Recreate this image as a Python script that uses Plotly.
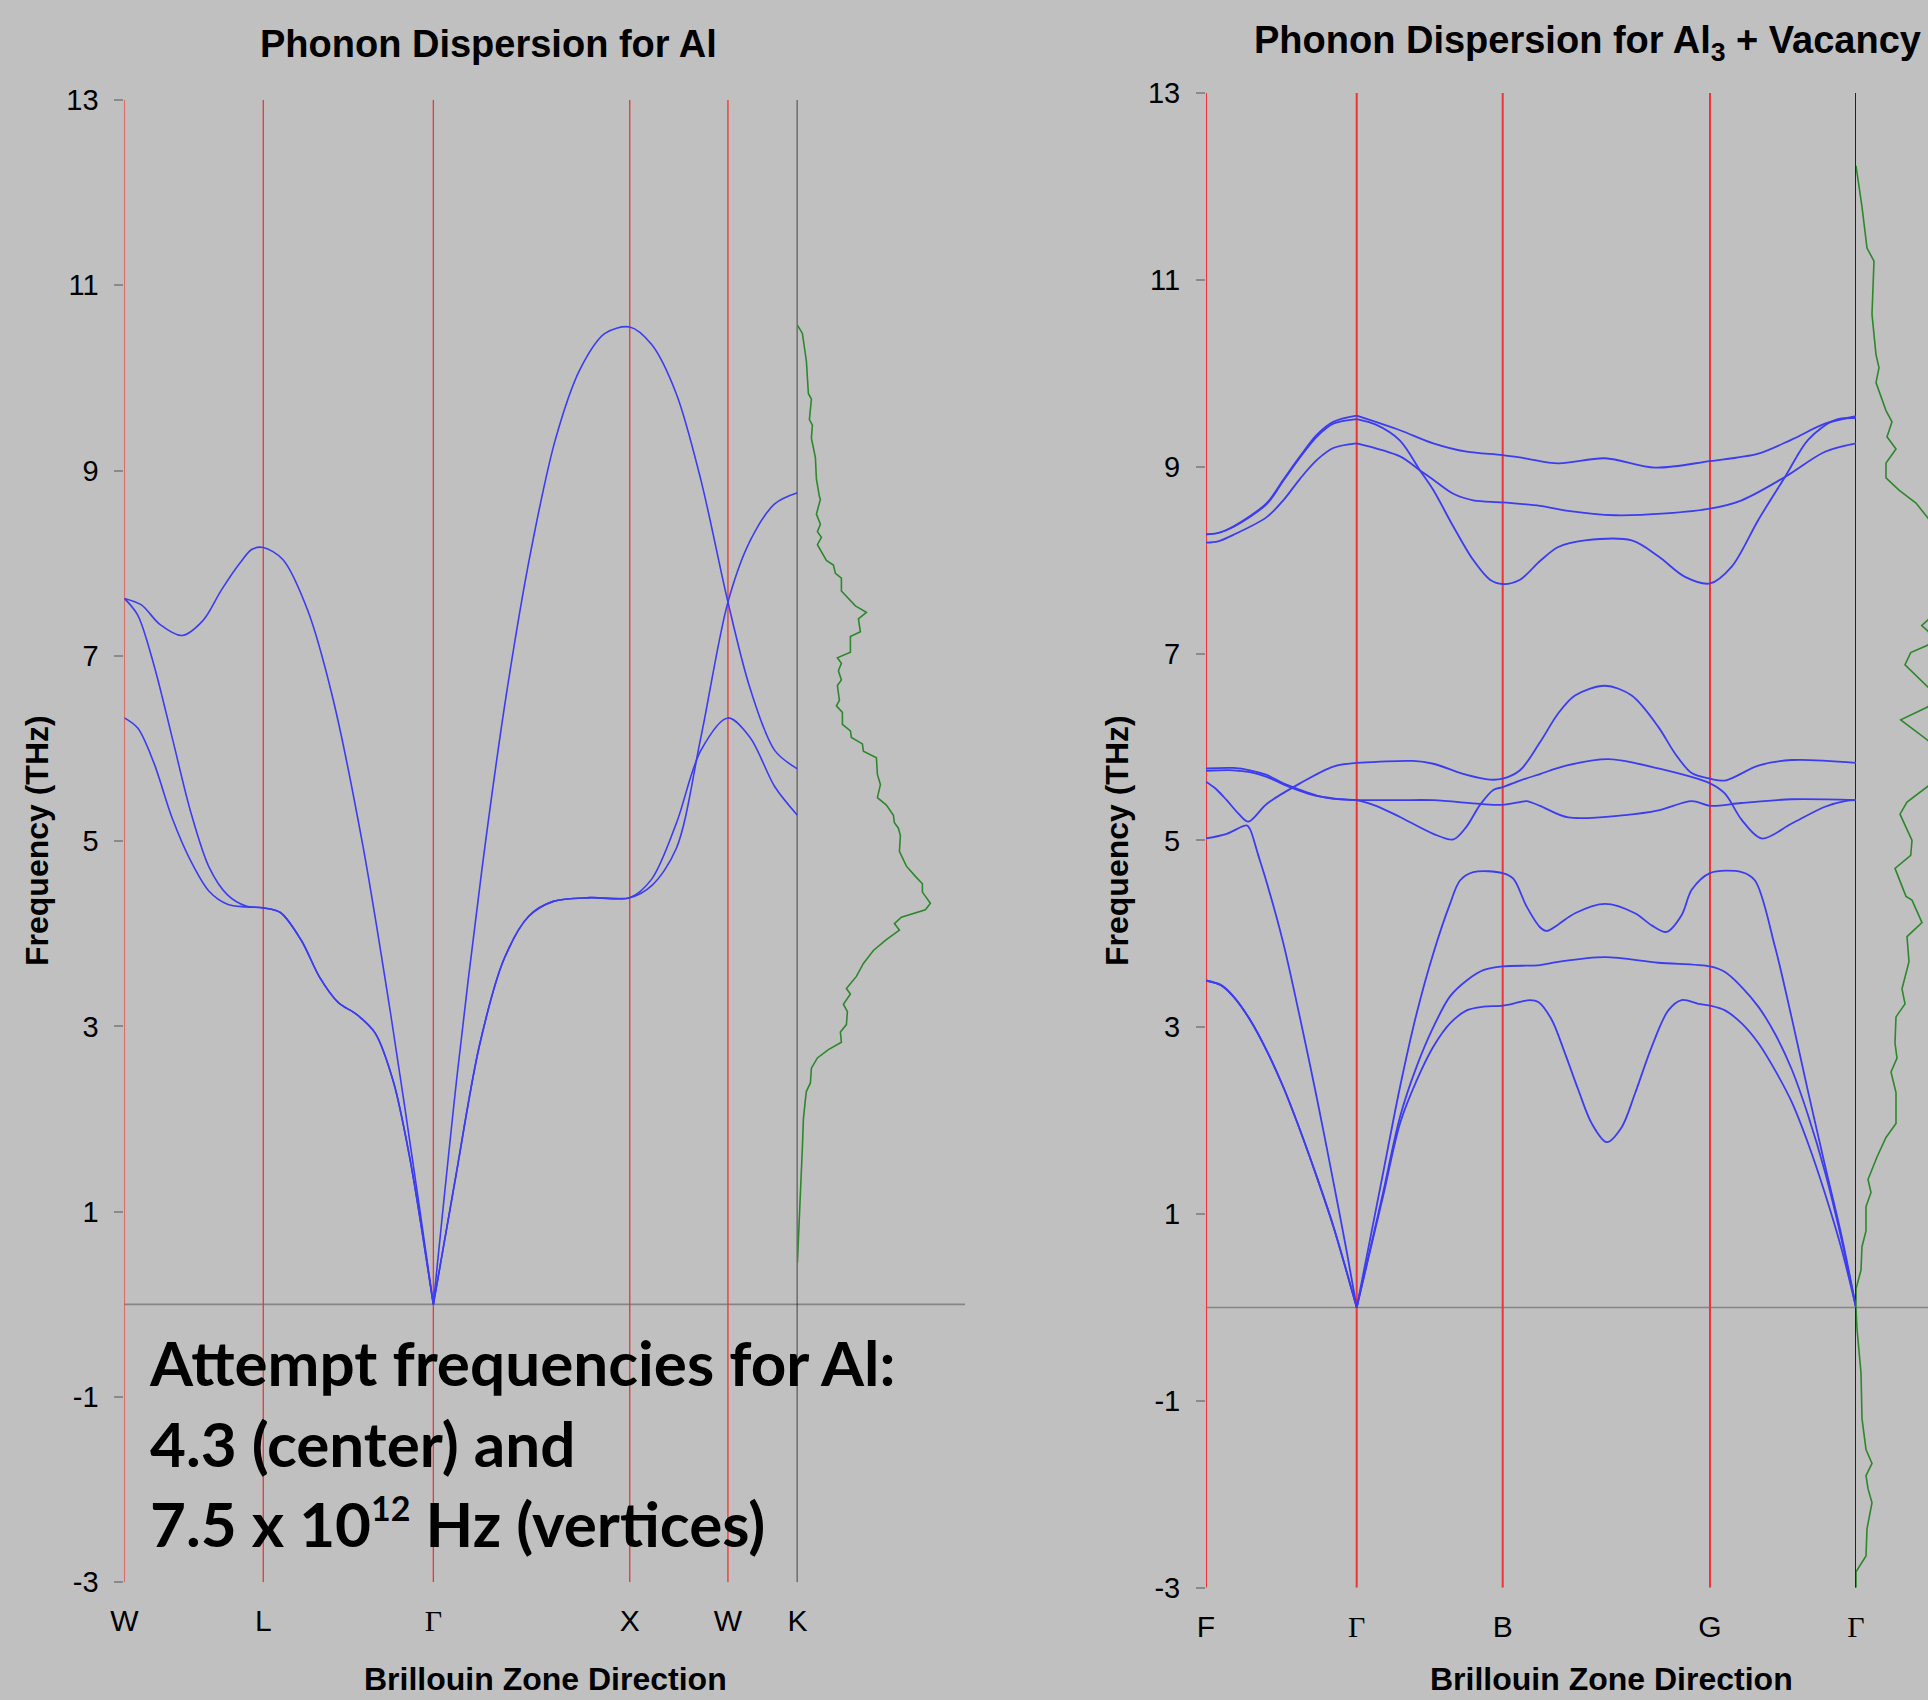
import plotly.graph_objects as go

W, H = 1928, 1700

# ---------------- Left panel: Al ----------------
left_tick_k = [0.0, 0.7071, 1.5731, 2.5731, 3.0731, 3.4267]
left_tick_text = ['W', 'L', 'Γ', 'X', 'W', 'K']
left_gamma = [1.5731]

left_b1_k = [0, 0.0866, 0.1805, 0.2932, 0.3996, 0.4935, 0.5874, 0.65, 0.7071, 0.8066, 0.9318, 1.057, 1.2135,
             1.3575, 1.5015, 1.5731, 1.6956, 1.8208, 1.946, 2.0712, 2.1964, 2.3216, 2.4468, 2.5731, 2.6848,
             2.81, 2.9352, 3.0731, 3.1857, 3.3109, 3.4267]
left_b1_f = [7.62, 7.55, 7.34, 7.22, 7.38, 7.71, 8.00, 8.15, 8.17, 8.04, 7.50, 6.58, 4.96,
             3.11, 1.06, 0.0, 2.5, 4.7, 6.6, 8.15, 9.35, 10.1, 10.48, 10.55, 10.36,
             9.83, 8.90, 7.58, 6.65, 5.98, 5.78]

left_b2_k = [0, 0.0678, 0.1492, 0.2431, 0.337, 0.4309, 0.5248, 0.6187, 0.7071, 0.7941, 0.9005, 0.9944, 1.0883,
             1.1822, 1.2761, 1.37, 1.4514, 1.514, 1.5731, 1.6831, 1.8083, 1.9335, 2.0587, 2.1839, 2.3717,
             2.5731, 2.6848, 2.81, 2.9352, 3.0731, 3.1857, 3.3109, 3.4267]
left_b2_f = [7.62, 7.44, 6.91, 6.12, 5.32, 4.72, 4.42, 4.30, 4.28, 4.23, 3.93, 3.53, 3.26,
             3.13, 2.93, 2.40, 1.60, 0.81, 0.0, 1.33, 2.80, 3.73, 4.19, 4.35, 4.39,
             4.39, 4.52, 4.92, 6.12, 7.58, 8.24, 8.64, 8.76]

left_b3_k = [0, 0.0678, 0.1492, 0.2431, 0.337, 0.4309, 0.5248, 0.6187, 0.7071, 0.7941, 0.9005, 0.9944, 1.0883,
             1.1822, 1.2761, 1.37, 1.4514, 1.514, 1.5731, 1.6831, 1.8083, 1.9335, 2.0587, 2.1839, 2.3717,
             2.5731, 2.6848, 2.81, 2.9352, 3.0731, 3.1857, 3.3109, 3.4267]
left_b3_f = [6.33, 6.22, 5.85, 5.25, 4.79, 4.46, 4.32, 4.29, 4.28, 4.23, 3.93, 3.53, 3.26,
             3.13, 2.93, 2.40, 1.60, 0.81, 0.0, 1.33, 2.80, 3.73, 4.19, 4.35, 4.39,
             4.39, 4.59, 5.19, 5.98, 6.33, 6.12, 5.59, 5.28]

left_dos_f = [10.57, 10.48, 10.18, 9.83, 9.77, 9.55, 9.49, 9.35, 9.14, 8.91, 8.72, 8.69, 8.53, 8.42, 8.34,
              8.28, 8.20, 8.03, 7.98, 7.89, 7.84, 7.70, 7.54, 7.47, 7.40, 7.26, 7.21, 7.04, 6.98, 6.92,
              6.84, 6.74, 6.68, 6.52, 6.46, 6.39, 6.26, 6.19, 6.12, 6.05, 5.97, 5.90, 5.72, 5.61, 5.47,
              5.39, 5.28, 5.20, 5.14, 5.06, 4.89, 4.73, 4.62, 4.54, 4.45, 4.33, 4.26, 4.18, 4.11, 4.04,
              3.93, 3.82, 3.68, 3.54, 3.41, 3.35, 3.24, 3.16, 3.02, 2.94, 2.83, 2.75, 2.66, 2.55, 2.39,
              2.30, 2.21, 2.0, 1.7, 1.4, 1.0, 0.7, 0.45]
left_dos_v = [0.0, 0.05, 0.09, 0.11, 0.14, 0.12, 0.15, 0.14, 0.18, 0.19, 0.22, 0.23, 0.19, 0.23, 0.20,
              0.24, 0.20, 0.29, 0.36, 0.38, 0.44, 0.44, 0.58, 0.69, 0.61, 0.63, 0.53, 0.53, 0.40, 0.44,
              0.41, 0.44, 0.40, 0.42, 0.39, 0.45, 0.45, 0.53, 0.54, 0.65, 0.66, 0.79, 0.80, 0.83, 0.80,
              0.89, 0.96, 0.97, 1.01, 1.03, 1.02, 1.09, 1.18, 1.25, 1.25, 1.33, 1.28, 1.04, 0.97, 1.02,
              0.88, 0.76, 0.66, 0.59, 0.49, 0.53, 0.46, 0.50, 0.49, 0.43, 0.44, 0.31, 0.20, 0.14, 0.13,
              0.09, 0.08, 0.06, 0.05, 0.04, 0.02, 0.01, 0.0]

# ---------------- Right panel: Al3 + vacancy ----------------
right_tick_k = [0.0, 1.507, 2.967, 5.04, 6.50]
right_tick_text = ['F', 'Γ', 'B', 'G', 'Γ']
right_gamma = [1.507, 6.50]

r_b1_k = [0, 0.12, 0.273, 0.607, 0.773, 0.94, 1.107, 1.273, 1.507, 1.94, 2.273, 2.607, 2.967, 3.19, 3.523,
          3.99, 4.49, 5.04, 5.523, 5.857, 6.19, 6.50]
r_b1_f = [8.275, 8.29, 8.36, 8.61, 8.86, 9.11, 9.34, 9.48, 9.546, 9.39, 9.25, 9.16, 9.124, 9.09, 9.035,
          9.09, 8.99, 9.06, 9.14, 9.29, 9.46, 9.54]

r_b2_k = [0, 0.12, 0.273, 0.607, 0.773, 0.94, 1.107, 1.273, 1.507, 1.70, 1.94, 2.14, 2.273, 2.473, 2.673,
          2.84, 2.967, 3.14, 3.34, 3.523, 3.79, 4.257, 4.523, 4.79, 5.04, 5.257, 5.523, 5.79, 6.023, 6.29, 6.50]
r_b2_f = [8.275, 8.29, 8.355, 8.60, 8.85, 9.10, 9.32, 9.46, 9.51, 9.45, 9.28, 8.96, 8.75, 8.36, 8.0,
          7.79, 7.744, 7.79, 7.99, 8.14, 8.21, 8.21, 8.04, 7.82, 7.75, 7.93, 8.43, 8.89, 9.29, 9.50, 9.52]

r_b3_k = [0, 0.12, 0.273, 0.607, 0.773, 0.94, 1.107, 1.273, 1.507, 1.94, 2.14, 2.273, 2.473, 2.673, 2.967,
          3.34, 3.6, 4.09, 4.6, 5.04, 5.357, 5.79, 6.19, 6.50]
r_b3_f = [8.186, 8.20, 8.27, 8.46, 8.64, 8.87, 9.07, 9.20, 9.25, 9.11, 8.96, 8.86, 8.71, 8.64, 8.618,
          8.58, 8.53, 8.48, 8.50, 8.55, 8.64, 8.89, 9.16, 9.25]

r_b4_k = [0, 0.1, 0.207, 0.33, 0.423, 0.607, 0.94, 1.273, 1.507, 2.073, 2.273, 2.607, 2.84, 2.967, 3.14,
          3.34, 3.523, 3.69, 3.99, 4.257, 4.523, 4.69, 4.857, 5.04, 5.19, 5.523, 5.857, 6.50]
r_b4_f = [5.627, 5.55, 5.43, 5.28, 5.20, 5.39, 5.61, 5.79, 5.83, 5.85, 5.82, 5.70, 5.65, 5.66, 5.75,
          6.05, 6.36, 6.55, 6.655, 6.55, 6.215, 5.93, 5.72, 5.66, 5.64, 5.80, 5.86, 5.83]

r_b5_k = [0, 0.207, 0.407, 0.44, 0.52, 0.607, 0.773, 0.94, 1.107, 1.273, 1.407, 1.507, 1.617, 1.773, 1.94,
          2.107, 2.273, 2.44, 2.54, 2.673, 2.967, 3.073, 3.207, 3.34, 3.407, 3.523, 3.69, 3.99, 4.29, 4.457,
          4.607, 4.757, 4.857, 5.04, 5.357, 5.49, 5.69, 5.857, 6.023, 6.19, 6.357, 6.50]
r_b5_f = [5.02, 5.07, 5.16, 5.12, 4.85, 4.55, 3.90, 3.10, 2.25, 1.35, 0.60, 0.0, 0.60, 1.45, 2.36,
          3.15, 3.79, 4.32, 4.57, 4.66, 4.65, 4.59, 4.29, 4.07, 4.03, 4.10, 4.22, 4.32, 4.22, 4.09,
          4.02, 4.20, 4.47, 4.65, 4.66, 4.57, 3.86, 3.10, 2.30, 1.52, 0.76, 0.0]

r_b6_k = [0, 0.15, 0.273, 0.44, 0.607, 0.773, 0.94, 1.107, 1.273, 1.407, 1.507, 1.673, 1.773, 1.94, 2.107,
          2.273, 2.44, 2.607, 2.773, 2.967, 3.34, 3.523, 3.99, 4.523, 5.04, 5.19, 5.357, 5.523, 5.69, 5.857,
          6.023, 6.19, 6.357, 6.50]
r_b6_f = [3.50, 3.45, 3.33, 3.08, 2.75, 2.36, 1.90, 1.40, 0.87, 0.38, 0.0, 0.77, 1.24, 2.04, 2.58,
          3.00, 3.33, 3.50, 3.61, 3.65, 3.665, 3.70, 3.75, 3.69, 3.65, 3.59, 3.43, 3.22, 2.93, 2.55,
          2.05, 1.45, 0.72, 0.0]

r_b7_k = [0, 0.15, 0.273, 0.44, 0.607, 0.773, 0.94, 1.107, 1.273, 1.407, 1.507, 1.673, 1.773, 1.94, 2.107,
          2.273, 2.44, 2.607, 2.773, 2.967, 3.14, 3.24, 3.323, 3.457, 3.59, 3.723, 3.857, 4.007, 4.157,
          4.29, 4.457, 4.623, 4.757, 4.923, 5.04, 5.19, 5.357, 5.523, 5.69, 5.857, 6.023, 6.19, 6.357, 6.50]
r_b7_f = [3.50, 3.45, 3.33, 3.08, 2.75, 2.36, 1.90, 1.40, 0.87, 0.38, 0.0, 0.75, 1.20, 1.97, 2.43,
          2.79, 3.04, 3.18, 3.22, 3.23, 3.27, 3.29, 3.27, 3.08, 2.72, 2.33, 1.97, 1.77, 1.93,
          2.29, 2.79, 3.18, 3.29, 3.25, 3.23, 3.18, 3.04, 2.83, 2.54, 2.20, 1.75, 1.22, 0.62, 0.0]

r_b8_k = [0, 0.273, 0.44, 0.607, 0.773, 0.94, 1.107, 1.273, 1.507, 1.94, 2.273, 2.74, 2.967, 3.14, 3.207,
          3.34, 3.623, 4.19, 4.523, 4.857, 5.04, 5.357, 5.857, 6.50]
r_b8_f = [5.77, 5.775, 5.75, 5.70, 5.61, 5.54, 5.48, 5.45, 5.43, 5.43, 5.43, 5.39, 5.38, 5.41, 5.42,
          5.37, 5.245, 5.27, 5.32, 5.42, 5.37, 5.40, 5.44, 5.43]

r_b9_k = [0, 0.273, 0.44, 0.607, 0.773, 0.94, 1.107, 1.273, 1.507, 1.70, 1.94, 2.273, 2.473, 2.607, 2.74,
          2.873, 2.967, 3.14, 3.34, 3.6, 4.023, 4.523, 5.04, 5.19, 5.357, 5.557, 5.857, 6.19, 6.39, 6.50]
r_b9_f = [5.745, 5.75, 5.73, 5.68, 5.60, 5.53, 5.475, 5.445, 5.43, 5.37, 5.25, 5.07, 5.01, 5.15, 5.38,
          5.54, 5.57, 5.64, 5.71, 5.80, 5.87, 5.77, 5.61, 5.50, 5.22, 5.02, 5.18, 5.36, 5.42, 5.43]

right_dos_f = [12.22, 11.78, 11.34, 11.2, 10.63, 10.2, 10.06, 9.9, 9.6, 9.48, 9.32, 9.19, 9.04, 8.88, 8.75,
               8.61, 8.45, 8.2, 7.9, 7.6, 7.36, 7.30, 7.24, 7.16, 7.09, 7.01, 6.88, 6.64, 6.55, 6.43, 6.29,
               6.07, 5.9, 5.7, 5.58, 5.41, 5.28, 5.0, 4.84, 4.70, 4.40, 4.36, 4.12, 3.97, 3.70, 3.41, 3.25,
               3.11, 2.83, 2.67, 2.52, 2.30, 1.97, 1.82, 1.61, 1.37, 1.23, 1.08, 0.82, 0.65, 0.40, 0.20, 0.0,
               -0.23, -0.70, -1.19, -1.52, -1.67, -1.80, -1.94, -2.09, -2.37, -2.66, -2.83, -3.0]
right_dos_v = [0.0, 0.06, 0.11, 0.18, 0.16, 0.20, 0.23, 0.20, 0.30, 0.36, 0.31, 0.40, 0.30, 0.30, 0.43,
               0.60, 0.72, 0.85, 0.95, 0.85, 0.72, 0.657, 0.72, 0.76, 0.72, 0.547, 0.49, 0.72, 0.78, 0.72, 0.447,
               0.72, 0.85, 0.80, 0.72, 0.51, 0.44, 0.56, 0.547, 0.39, 0.50, 0.56, 0.66, 0.51, 0.53, 0.46, 0.49,
               0.40, 0.39, 0.41, 0.35, 0.40, 0.40, 0.30, 0.21, 0.12, 0.15, 0.10, 0.10, 0.06, 0.05, 0.0, 0.0,
               0.01, 0.05, 0.06, 0.10, 0.16, 0.10, 0.12, 0.16, 0.11, 0.10, 0.0, 0.0]

y_ticks = [-3, -1, 1, 3, 5, 7, 9, 11, 13]
y_tick_text = ['-3', '-1', '1', '3', '5', '7', '9', '11', '13']

# ---------------- styling ----------------
BG = '#c0c0c0'
BLUE = 'rgb(60,60,240)'
RED = 'rgb(238,52,52)'
GREEN = 'rgb(45,135,45)'
SANS = 'Liberation Sans, Arial, sans-serif'
SERIF = 'Liberation Serif, Times New Roman, serif'


def split_at(k, f, cuts):
    segs, cur_k, cur_f = [], [], []
    for a, b in zip(k, f):
        cur_k.append(a)
        cur_f.append(b)
        if any(abs(a - c) < 1e-6 for c in cuts) and len(cur_k) > 1:
            segs.append((cur_k, cur_f))
            cur_k, cur_f = [a], [b]
    if len(cur_k) > 1:
        segs.append((cur_k, cur_f))
    return segs


def tick_labels(texts):
    return [f'<span style="font-family:{SERIF}">{t}</span>' if t == 'Γ' else t for t in texts]


fig = go.Figure()

left_bands = [(left_b1_k, left_b1_f), (left_b2_k, left_b2_f), (left_b3_k, left_b3_f)]
for bk, bf in left_bands:
    for sk, sf in split_at(bk, bf, left_gamma):
        fig.add_trace(go.Scatter(x=sk, y=sf, mode='lines', xaxis='x', yaxis='y',
                                 line=dict(color=BLUE, width=1.6, shape='spline', smoothing=0.9),
                                 hoverinfo='skip', showlegend=False))

fig.add_trace(go.Scatter(x=left_dos_v, y=left_dos_f, mode='lines', xaxis='x2', yaxis='y',
                         line=dict(color=GREEN, width=1.6), hoverinfo='skip', showlegend=False))

right_bands = [(r_b1_k, r_b1_f), (r_b2_k, r_b2_f), (r_b3_k, r_b3_f), (r_b4_k, r_b4_f), (r_b5_k, r_b5_f),
               (r_b6_k, r_b6_f), (r_b7_k, r_b7_f), (r_b8_k, r_b8_f), (r_b9_k, r_b9_f)]
for bk, bf in right_bands:
    for sk, sf in split_at(bk, bf, right_gamma):
        fig.add_trace(go.Scatter(x=sk, y=sf, mode='lines', xaxis='x3', yaxis='y2',
                                 line=dict(color=BLUE, width=1.8, shape='spline', smoothing=0.9),
                                 hoverinfo='skip', showlegend=False))

fig.add_trace(go.Scatter(x=right_dos_v, y=right_dos_f, mode='lines', xaxis='x4', yaxis='y2',
                         line=dict(color=GREEN, width=1.6), hoverinfo='skip', showlegend=False))

# ---------------- axes ----------------
Lx0, Lx1, Ldos1 = 124.4 / W, 797.4 / W, 965 / W
Rx0, Rx1 = 1206 / W, 1856 / W
Ly = [(H - 1582.3) / H, (H - 100) / H]
Ry = [(H - 1587.7) / H, (H - 93) / H]

xcommon = dict(showgrid=False, zeroline=False, showline=False, ticks='', automargin=False,
               tickfont=dict(family=SANS, size=30, color='black'), ticklabelstandoff=18)
ycommon = dict(range=[-3, 13], tickvals=y_ticks, ticktext=y_tick_text, showgrid=False, zeroline=False,
               showline=False, automargin=False,
               ticks='outside', ticklen=9, tickwidth=1.5, tickcolor='#8a8a8a',
               tickfont=dict(family=SANS, size=29, color='black'), ticklabelstandoff=10)

fig.update_layout(
    template='none',
    width=W, height=H, margin=dict(l=0, r=0, t=0, b=0, pad=0), autosize=False,
    paper_bgcolor=BG, plot_bgcolor=BG, showlegend=False,
    xaxis=dict(domain=[Lx0, Lx1], range=[left_tick_k[0], left_tick_k[-1]], tickvals=left_tick_k,
               ticktext=tick_labels(left_tick_text), anchor='y', **xcommon),
    yaxis=dict(domain=Ly, anchor='x', **ycommon),
    xaxis2=dict(domain=[Lx1, Ldos1], range=[0, 1.676], visible=False, anchor='y', automargin=False),
    xaxis3=dict(domain=[Rx0, Rx1], range=[right_tick_k[0], right_tick_k[-1]], tickvals=right_tick_k,
                ticktext=tick_labels(right_tick_text), anchor='y2', **xcommon),
    yaxis2=dict(domain=Ry, anchor='x3', **ycommon),
    xaxis4=dict(domain=[Rx1, 1.0], range=[0, 0.72], visible=False, anchor='y2', automargin=False),
)

shapes = []
for i, kx in enumerate(left_tick_k):
    col = 'black' if i == len(left_tick_k) - 1 else RED
    shapes.append(dict(type='line', xref='x', yref='y', x0=kx, x1=kx, y0=-3, y1=13,
                       line=dict(color=col, width=1.3), layer='below'))
for i, kx in enumerate(right_tick_k):
    shapes.append(dict(type='line', xref='x3', yref='y2', x0=kx, x1=kx, y0=-3, y1=13,
                       line=dict(color=RED, width=2), layer='below'))
shapes.append(dict(type='line', xref='x3', yref='y2', x0=right_tick_k[-1], x1=right_tick_k[-1], y0=-3, y1=13,
                   line=dict(color='#2a0808', width=1.6), layer='below'))
shapes.append(dict(type='line', xref='paper', yref='y', x0=Lx0, x1=Ldos1, y0=0, y1=0,
                   line=dict(color='#858585', width=1.6), layer='below'))
shapes.append(dict(type='line', xref='paper', yref='y2', x0=Rx0, x1=1.0, y0=0, y1=0,
                   line=dict(color='#858585', width=1.6), layer='below'))
fig.update_layout(shapes=shapes)


def ann(text, x, y, size, angle=0, family=SANS, xanchor='center', align='center'):
    return dict(text=text, x=x / W, y=(H - y) / H, xref='paper', yref='paper', showarrow=False,
                xanchor=xanchor, yanchor='middle', textangle=angle, align=align,
                font=dict(family=family, size=size, color='black'))


annotations = [
    ann('<b>Phonon Dispersion for Al</b>', 488, 44, 38),
    ann('<b>Phonon Dispersion for Al<sub>3</sub> + Vacancy</b>', 1587, 43, 38),
    ann('<b>Brillouin Zone Direction</b>', 545, 1679, 32),
    ann('<b>Brillouin Zone Direction</b>', 1611, 1679, 32),
    ann('<b>Frequency (THz)</b>', 37, 841, 32, angle=-90),
    ann('<b>Frequency (THz)</b>', 1117, 841, 32, angle=-90),
    ann('<b>Attempt frequencies for Al:<br>4.3 (center) and<br>7.5 x 10'
        '<sup><span style="font-size:34px">12</span></sup> Hz (vertices)</b>',
        147, 1442, 62, family='Lato, Open Sans, sans-serif', xanchor='left', align='left'),
]
fig.update_layout(annotations=annotations)

fig.write_html('out.html', config={'displayModeBar': False},
               post_script="document.body.style.margin='0';document.body.style.overflow='hidden';")
